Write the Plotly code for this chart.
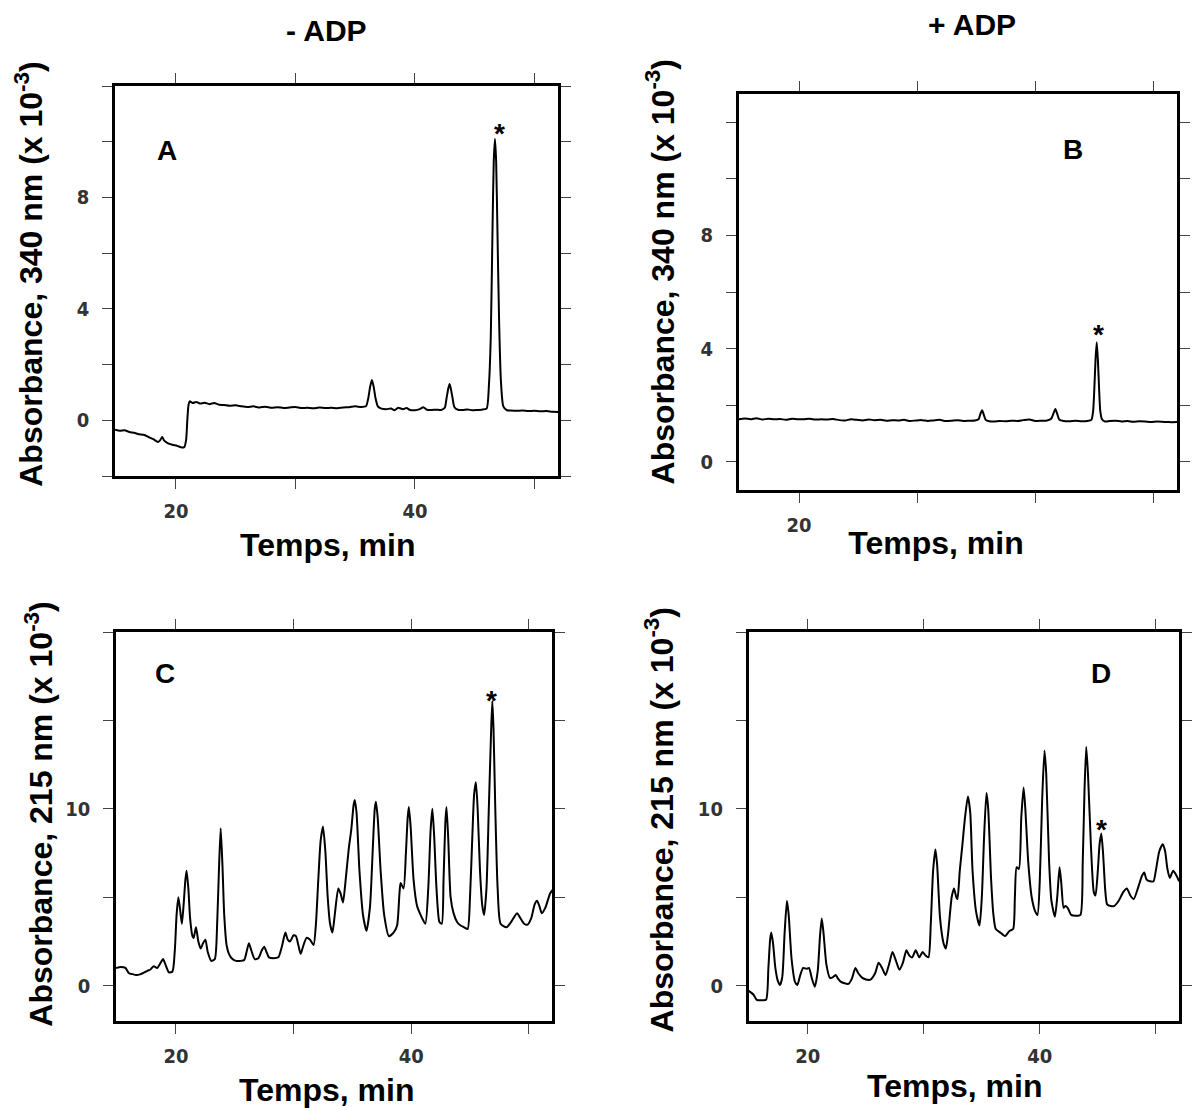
import plotly.graph_objects as go

W, H = 1192, 1108

# ---------------- data ----------------
# Panel A : - ADP, 340 nm
time_a = [14.9, 15.3, 15.7, 16.1, 16.5, 16.9, 17.3, 17.7, 18.1, 18.5, 18.7, 18.85, 19.0, 19.3, 19.7,
          20.1, 20.5, 20.7, 20.85, 20.95, 21.05, 21.15, 21.4, 21.7, 22.0, 22.4, 22.8, 23.2, 23.6, 24.0,
          24.5, 25.0, 25.5, 26.0, 26.5, 27.0, 27.5, 28.0, 28.5, 29.0, 29.5, 30.0, 30.5, 31.0, 31.5,
          32.0, 32.5, 33.0, 33.5, 34.0, 34.5, 35.0, 35.5, 35.9, 36.1, 36.25, 36.4, 36.55, 36.7, 36.9,
          37.2, 37.6, 38.0, 38.3, 38.6, 39.0, 39.3, 39.6, 40.0, 40.4, 40.7, 41.0, 41.4, 41.8, 42.2,
          42.5, 42.65, 42.8, 42.9, 43.0, 43.15, 43.3, 43.6, 44.0, 44.4, 44.8, 45.2, 45.6, 46.0, 46.2,
          46.35, 46.5, 46.6, 46.7, 46.8, 46.9, 47.05, 47.2, 47.4, 47.7, 48.0, 48.5, 49.0, 49.5, 50.0,
          50.5, 51.0, 51.5, 52.0]
abs_a = [-0.34, -0.38, -0.36, -0.42, -0.45, -0.50, -0.52, -0.60, -0.68, -0.78, -0.70, -0.60, -0.72, -0.82, -0.88,
         -0.92, -0.98, -0.96, -0.70, 0.00, 0.55, 0.68, 0.62, 0.66, 0.60, 0.63, 0.58, 0.62, 0.56, 0.55,
         0.52, 0.54, 0.50, 0.48, 0.50, 0.46, 0.49, 0.45, 0.47, 0.44, 0.46, 0.48, 0.44, 0.45, 0.43,
         0.46, 0.44, 0.45, 0.43, 0.46, 0.47, 0.50, 0.48, 0.50, 0.80, 1.20, 1.45, 1.20, 0.80, 0.50,
         0.42, 0.40, 0.42, 0.36, 0.45, 0.40, 0.44, 0.37, 0.36, 0.40, 0.47, 0.38, 0.37, 0.38, 0.37,
         0.45, 0.80, 1.15, 1.30, 1.15, 0.80, 0.48, 0.38, 0.37, 0.39, 0.36, 0.37, 0.38, 0.42, 1.30,
         3.00, 7.00, 9.30, 10.10, 9.30, 7.00, 3.50, 1.40, 0.50, 0.36, 0.35, 0.34, 0.35, 0.33, 0.34,
         0.32, 0.33, 0.31, 0.30]

# Panel B : + ADP, 340 nm
time_b = [14.9, 15.4, 15.9, 16.4, 16.9, 17.4, 17.9, 18.4, 18.9, 19.4, 19.9, 20.4, 20.9, 21.4, 21.9,
          22.4, 22.9, 23.4, 23.9, 24.4, 24.9, 25.4, 25.9, 26.4, 26.9, 27.4, 27.9, 28.4, 28.9, 29.4,
          29.9, 30.4, 30.9, 31.4, 31.9, 32.4, 32.9, 33.4, 33.9, 34.4, 34.9, 35.2, 35.35, 35.5, 35.65,
          35.8, 36.1, 36.5, 37.0, 37.5, 38.0, 38.5, 39.0, 39.5, 40.0, 40.5, 41.0, 41.35, 41.55, 41.7,
          41.85, 42.05, 42.4, 42.9, 43.4, 43.9, 44.4, 44.75, 44.9, 45.0, 45.1, 45.2, 45.3, 45.4, 45.5,
          45.65, 45.9, 46.3, 46.8, 47.3, 47.8, 48.3, 48.8, 49.3, 49.8, 50.3, 50.8, 51.3, 52.0]
abs_b = [1.50, 1.53, 1.50, 1.54, 1.49, 1.52, 1.50, 1.51, 1.48, 1.52, 1.50, 1.50, 1.52, 1.49, 1.50,
         1.49, 1.51, 1.47, 1.46, 1.50, 1.48, 1.46, 1.49, 1.47, 1.48, 1.45, 1.47, 1.46, 1.48, 1.44,
         1.46, 1.47, 1.44, 1.46, 1.48, 1.44, 1.45, 1.47, 1.44, 1.45, 1.46, 1.50, 1.68, 1.82, 1.65,
         1.48, 1.43, 1.42, 1.44, 1.43, 1.45, 1.44, 1.47, 1.49, 1.44, 1.45, 1.46, 1.52, 1.72, 1.86,
         1.70, 1.48, 1.44, 1.43, 1.45, 1.43, 1.44, 1.48, 1.80, 2.60, 3.60, 4.22, 3.60, 2.60, 1.80,
         1.50, 1.42, 1.44, 1.45, 1.42, 1.44, 1.41, 1.43, 1.42, 1.40, 1.42, 1.41, 1.40, 1.40]

# Panel C : - ADP, 215 nm
time_c = [14.9, 15.3, 15.7, 16.0, 16.3, 16.6, 17.0, 17.3, 17.6, 17.8, 18.1, 18.4, 18.7, 18.9, 19.1,
          19.4, 19.7, 19.9, 20.05, 20.2, 20.35, 20.5, 20.65, 20.8, 20.9, 21.05, 21.2, 21.4, 21.5, 21.7,
          21.9, 22.1, 22.3, 22.5, 22.7, 23.0, 23.3, 23.5, 23.65, 23.8, 23.95, 24.1, 24.3, 24.5, 24.8,
          25.1, 25.5, 25.8, 26.0, 26.2, 26.4, 26.7, 27.0, 27.3, 27.5, 27.7, 27.9, 28.3, 28.7, 29.0,
          29.3, 29.5, 29.7, 30.0, 30.2, 30.4, 30.6, 30.8, 31.1, 31.4, 31.7, 31.9, 32.1, 32.3, 32.5,
          32.7, 32.9, 33.1, 33.3, 33.5, 33.8, 34.0, 34.2, 34.4, 34.7, 34.9, 35.1, 35.2, 35.35, 35.6,
          35.9, 36.2, 36.5, 36.75, 36.9, 37.0, 37.15, 37.4, 37.7, 38.1, 38.5, 38.8, 39.0, 39.1, 39.35,
          39.55, 39.7, 39.8, 39.95, 40.2, 40.5, 40.8, 41.2, 41.45, 41.65, 41.8, 41.95, 42.15, 42.4, 42.6,
          42.75, 42.9, 43.0, 43.15, 43.35, 43.6, 43.9, 44.2, 44.5, 44.8, 45.0, 45.2, 45.35, 45.5, 45.65,
          45.85, 46.05, 46.2, 46.4, 46.6, 46.8, 46.9, 47.0, 47.15, 47.35, 47.6, 48.1, 48.5, 49.0, 49.3,
          49.6, 49.9, 50.2, 50.5, 50.7, 50.9, 51.1, 51.4, 51.8, 52.0]
abs_c = [1.00, 1.05, 1.00, 0.70, 0.65, 0.60, 0.65, 0.75, 0.85, 0.90, 1.10, 1.00, 1.30, 1.50, 1.20,
         0.75, 0.80, 2.00, 4.00, 5.00, 4.30, 3.50, 4.60, 6.00, 6.50, 5.50, 3.80, 2.80, 2.70, 3.30,
         2.50, 2.10, 2.40, 2.60, 1.90, 1.40, 1.50, 3.50, 6.50, 8.90, 6.80, 4.00, 2.30, 1.80, 1.50,
         1.40, 1.40, 1.45, 1.90, 2.40, 2.00, 1.50, 1.55, 2.00, 2.20, 1.90, 1.60, 1.55, 1.60, 2.20,
         3.00, 2.60, 2.50, 2.85, 2.80, 2.30, 1.80, 2.20, 2.70, 2.60, 2.30, 3.50, 6.00, 8.20, 9.00,
         7.60, 5.00, 3.50, 3.00, 4.00, 5.50, 5.20, 4.70, 5.80, 7.80, 8.80, 10.20, 10.50, 9.80, 6.50,
         4.00, 3.10, 4.50, 8.00, 10.00, 10.40, 9.50, 6.50, 4.00, 2.80, 3.00, 3.40, 5.20, 5.80, 5.50,
         7.50, 9.50, 10.10, 9.00, 6.00, 4.50, 4.00, 3.50, 5.50, 8.80, 10.00, 8.50, 5.50, 3.60, 3.50,
         6.00, 9.20, 10.10, 8.30, 5.00, 4.10, 3.60, 3.40, 3.30, 3.20, 5.00, 8.50, 10.80, 11.50, 10.00,
         6.50, 4.50, 4.00, 5.50, 10.00, 14.50, 16.10, 14.50, 10.00, 5.50, 3.50, 3.30, 3.60, 4.10, 3.80,
         3.50, 3.45, 3.80, 4.60, 4.80, 4.50, 4.10, 4.40, 5.20, 5.40]

# Panel D : + ADP, 215 nm
time_d = [14.9, 15.3, 15.6, 16.0, 16.4, 16.6, 16.75, 16.85, 17.0, 17.2, 17.4, 17.6, 17.8, 18.0, 18.2,
          18.35, 18.6, 18.9, 19.1, 19.35, 19.6, 19.9, 20.1, 20.35, 20.6, 20.85, 21.05, 21.2, 21.35, 21.6,
          21.9, 22.1, 22.4, 22.6, 22.8, 23.1, 23.5, 23.8, 24.1, 24.35, 24.7, 25.0, 25.4, 25.8, 26.1,
          26.4, 26.7, 27.0, 27.3, 27.6, 27.9, 28.2, 28.5, 28.75, 29.0, 29.3, 29.6, 29.9, 30.15, 30.4,
          30.6, 30.8, 31.0, 31.15, 31.4, 31.7, 31.9, 32.1, 32.4, 32.6, 32.8, 32.9, 33.1, 33.3, 33.55,
          33.8, 34.0, 34.2, 34.5, 34.8, 35.0, 35.2, 35.4, 35.55, 35.8, 36.0, 36.2, 36.6, 37.0, 37.4,
          37.7, 37.85, 38.0, 38.2, 38.4, 38.6, 38.75, 39.0, 39.3, 39.6, 39.8, 40.0, 40.2, 40.4, 40.55,
          40.8, 41.0, 41.3, 41.5, 41.7, 41.85, 42.05, 42.2, 42.4, 42.7, 43.1, 43.5, 43.7, 43.85, 44.0,
          44.15, 44.4, 44.65, 44.8, 45.0, 45.15, 45.3, 45.45, 45.65, 45.8, 46.1, 46.4, 46.8, 47.2, 47.5,
          47.8, 48.1, 48.5, 48.8, 49.0, 49.2, 49.5, 49.8, 50.0, 50.3, 50.6, 50.8, 51.0, 51.2, 51.5,
          51.8, 52.0]
abs_d = [-0.30, -0.50, -0.80, -0.82, -0.80, 1.00, 2.60, 3.00, 2.40, 1.00, 0.30, 0.04, 0.50, 3.00, 4.80,
         4.00, 1.50, 0.20, 0.04, 0.60, 1.00, 0.95, 1.00, 0.40, -0.06, 0.80, 2.80, 3.80, 3.00, 1.20,
         0.44, 0.45, 0.60, 0.40, 0.24, 0.15, 0.10, 0.40, 1.00, 0.70, 0.44, 0.35, 0.34, 0.70, 1.30,
         1.00, 0.60, 1.20, 1.90, 1.40, 0.90, 1.30, 2.00, 1.70, 1.60, 2.00, 1.60, 1.90, 1.70, 1.60,
         3.50, 6.50, 7.70, 6.80, 3.80, 2.40, 2.10, 3.00, 5.00, 5.50, 5.00, 4.90, 6.50, 7.80, 9.50,
         10.70, 9.80, 6.50, 4.20, 3.40, 5.00, 8.50, 10.90, 10.00, 6.00, 4.00, 3.20, 3.00, 2.80, 3.10,
         3.20, 5.00, 6.70, 6.60, 9.50, 11.20, 10.00, 7.00, 5.00, 4.20, 4.00, 6.00, 10.50, 13.30, 12.00,
         7.00, 4.80, 3.90, 5.00, 6.70, 5.80, 4.40, 4.50, 4.40, 4.00, 3.95, 4.00, 7.00, 11.00, 13.50,
         12.00, 8.00, 5.30, 5.10, 6.50, 8.00, 8.60, 7.50, 5.30, 4.60, 4.50, 4.50, 4.80, 5.30, 5.50,
         5.10, 4.90, 5.60, 6.20, 6.40, 6.00, 5.90, 5.90, 6.50, 7.60, 8.00, 7.60, 6.60, 6.10, 6.50,
         6.20, 5.90]

# ticks
x_tick_vals = [20, 30, 40, 50]
x_tick_text = ["20", "", "40", ""]
y_tick_vals_340a = [-2, 0, 2, 4, 6, 8, 10, 12]
y_tick_text_340a = ["", "0", "", "4", "", "8", "", ""]
y_tick_vals_340b = [0, 2, 4, 6, 8, 10, 12]
y_tick_text_340b = ["0", "", "4", "", "8", "", ""]
y_tick_vals_215 = [0, 5, 10, 15, 20]
y_tick_text_215 = ["0", "", "10", "", ""]

# ---------------- helpers ----------------
def fx(p):
    return p / W


def fy(p):
    return 1 - p / H


TICKFONT = dict(family="Liberation Sans Narrow, DejaVu Sans Condensed, Arial Narrow, sans-serif",
                size=20, color="#333333", weight="bold")
BOLD = "Liberation Sans, Arial, Helvetica, sans-serif"

axis_common = dict(showline=True, linecolor="black", linewidth=2.5, mirror="allticks",
                   ticks="outside", ticklen=10, tickwidth=1.2, tickcolor="#444444",
                   showgrid=False, zeroline=False, tickfont=TICKFONT, fixedrange=True,
                   tickmode="array")

fig = go.Figure()

panels = [
    dict(t=time_a, v=abs_a, xa="x", ya="y"),
    dict(t=time_b, v=abs_b, xa="x2", ya="y2"),
    dict(t=time_c, v=abs_c, xa="x3", ya="y3"),
    dict(t=time_d, v=abs_d, xa="x4", ya="y4"),
]
for p in panels:
    fig.add_trace(go.Scatter(x=p["t"], y=p["v"], xaxis=p["xa"], yaxis=p["ya"], mode="lines",
                             line=dict(color="black", width=2, shape="spline", smoothing=0.6),
                             hoverinfo="skip", showlegend=False))

# panel boxes in pixels: (left, right, top, bottom)
boxA = (116, 563, 86, 476)
boxB = (745, 1187, 94, 490)
boxC = (117, 557, 632, 1021)
boxD = (755, 1189, 632, 1021)


def xa(box, anchor, text):
    return dict(axis_common, domain=[fx(box[0]), fx(box[1])], anchor=anchor,
                range=[14.9, 52.0], tickvals=x_tick_vals, ticktext=text, ticklabelstandoff=5)


def ya(box, anchor, rng, vals, text):
    return dict(axis_common, domain=[fy(box[3]), fy(box[2])], anchor=anchor,
                range=rng, tickvals=vals, ticktext=text, ticklabelstandoff=9)


fig.update_layout(
    width=W, height=H, margin=dict(l=0, r=0, t=0, b=0),
    paper_bgcolor="white", plot_bgcolor="white", showlegend=False,
    xaxis=xa(boxA, "y", x_tick_text),
    yaxis=ya(boxA, "x", [-2, 12], y_tick_vals_340a, y_tick_text_340a),
    xaxis2=xa(boxB, "y2", x_tick_text),
    yaxis2=ya(boxB, "x2", [-1, 13], y_tick_vals_340b, y_tick_text_340b),
    xaxis3=xa(boxC, "y3", x_tick_text),
    yaxis3=ya(boxC, "x3", [-2, 20], y_tick_vals_215, y_tick_text_215),
    xaxis4=xa(boxD, "y4", x_tick_text),
    yaxis4=ya(boxD, "x4", [-2, 20], y_tick_vals_215, y_tick_text_215),
)

annotations = []


def txt(text, px, py, size, angle=0, **kw):
    annotations.append(dict(text=text, x=fx(px), y=fy(py), xref="paper", yref="paper",
                            xanchor="center", yanchor="middle", showarrow=False,
                            textangle=angle,
                            font=dict(family=BOLD, size=size, color="black", weight="bold"), **kw))


# column titles
txt("- ADP", 329, 30, 30)
txt("+ ADP", 980, 25, 30)

# y-axis titles
y340 = "Absorbance, 340 nm (x 10<sup>-3</sup>)"
y215 = "Absorbance, 215 nm (x 10<sup>-3</sup>)"
txt(y340, 29, 274, 32, angle=-90)
txt(y340, 666, 272, 32, angle=-90)
txt(y215, 39, 814, 32, angle=-90)
txt(y215, 665, 820, 32, angle=-90)

# x-axis titles (the B one hides the "40" label behind a white box, as in the figure)
txt("Temps, min", 330, 545, 32)
txt("Temps, min", 944, 543, 32, bgcolor="white", borderpad=9, width=210)
txt("Temps, min", 329, 1090, 32)
txt("Temps, min", 963, 1086, 32)

# panel letters
txt("A", 168, 150, 28)
txt("B", 1082, 149, 28)
txt("C", 166, 673, 28)
txt("D", 1110, 673, 28)

# asterisks
txt("*", 504, 133, 28)
txt("*", 1108, 334, 28)
txt("*", 496, 700, 28)
txt("*", 1111, 829, 28)

fig.update_layout(annotations=annotations)

fig.write_html("out.html")
